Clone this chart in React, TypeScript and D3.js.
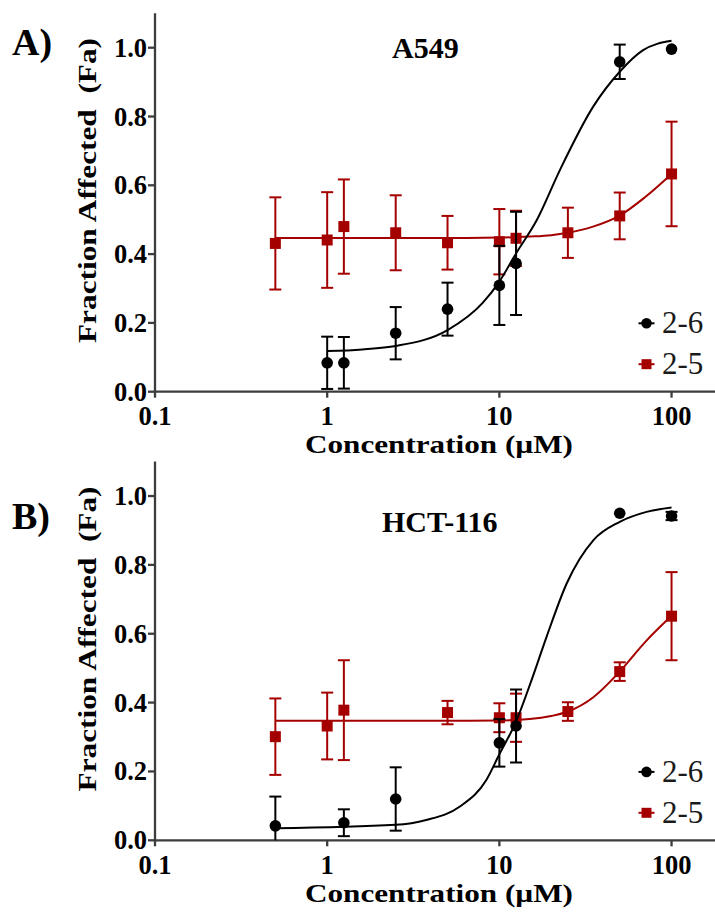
import React from "react";
import * as d3 from "d3";

// ---------- Data ----------
// Panel A: A549
const concA26 = [1, 1.25, 2.5, 5, 10, 12.5, 50, 100];
const faA26 = [0.084, 0.084, 0.17, 0.24, 0.309, 0.373, 0.959, 0.996];
const sdA26 = [0.076, 0.075, 0.076, 0.077, 0.115, 0.15, 0.05, 0];
const concA25 = [0.5, 1, 1.25, 2.5, 5, 10, 12.5, 25, 50, 100];
const faA25 = [0.431, 0.441, 0.48, 0.462, 0.433, 0.436, 0.446, 0.462, 0.511, 0.633];
const sdA25 = [0.134, 0.139, 0.137, 0.109, 0.078, 0.095, 0.08, 0.073, 0.068, 0.152];
const fitA26x = [1, 1.6, 2.5, 5, 8, 10, 12.5, 16.5, 22.5, 35, 50, 68, 100];
const fitA26y = [0.118, 0.123, 0.133, 0.179, 0.258, 0.32, 0.402, 0.499, 0.645, 0.828, 0.93, 0.992, 1.02];
const fitA25x = [0.5, 5, 10, 15, 20, 25, 35, 50, 70, 100];
const fitA25y = [0.447, 0.447, 0.448, 0.451, 0.455, 0.462, 0.48, 0.512, 0.565, 0.633];

// Panel B: HCT-116
const concB26 = [0.5, 1.25, 2.5, 10, 12.5, 50, 100];
const faB26 = [0.042, 0.051, 0.12, 0.283, 0.332, 0.95, 0.942];
const sdB26 = [0.085, 0.039, 0.092, 0.069, 0.106, 0, 0.012];
const concB25 = [0.5, 1, 1.25, 5, 10, 12.5, 25, 50, 100];
const faB25 = [0.301, 0.332, 0.378, 0.371, 0.356, 0.356, 0.374, 0.49, 0.651];
const sdB25 = [0.111, 0.097, 0.145, 0.034, 0.042, 0.07, 0.027, 0.027, 0.128];
const fitB26x = [0.5, 2.5, 3.76, 5.9, 8.4, 10, 12.5, 15.4, 18.8, 24.6, 35.2, 50, 71.6, 100];
const fitB26y = [0.035, 0.045, 0.059, 0.098, 0.175, 0.25, 0.345, 0.466, 0.591, 0.746, 0.872, 0.925, 0.954, 0.967];
const fitB25x = [0.5, 5, 10, 15, 20, 25, 35, 50, 70, 100];
const fitB25y = [0.347, 0.347, 0.348, 0.352, 0.361, 0.374, 0.415, 0.49, 0.575, 0.652];

const xTicks = [0.1, 1, 10, 100];
const xTickLabels = ["0.1", "1", "10", "100"];
const yTicks = [0, 0.2, 0.4, 0.6, 0.8, 1.0];
const yTickLabels = ["0.0", "0.2", "0.4", "0.6", "0.8", "1.0"];
const seriesNames = ["2-6", "2-5"];

const FONT = "'Liberation Serif', 'Times New Roman', serif";
const BLACK = "#000000";
const RED = "#a50000";
const AXIS = "#3c3c3c";

type PanelProps = {
  letter: string;
  title: string;
  y0: number;
  yTop: number;
  letterY: number;
  titleX: number;
  titleY: number;
  c26: number[]; f26: number[]; s26: number[];
  c25: number[]; f25: number[]; s25: number[];
  fx26: number[]; fy26: number[];
  fx25: number[]; fy25: number[];
};

const bold = (size: number): React.CSSProperties => ({
  fontFamily: FONT,
  fontWeight: 700,
  fontSize: size,
});

function Panel(p: PanelProps) {
  const x = d3.scaleLog().domain([0.1, 180]).range([155, 715.5]);
  const y = d3.scaleLinear().domain([0, 1.1]).range([p.y0, p.yTop]);
  const line = d3
    .line<[number, number]>()
    .x((d) => x(d[0]))
    .y((d) => y(d[1]))
    .curve(d3.curveMonotoneX);
  const fit26 = line(p.fx26.map((v, i) => [v, p.fy26[i]] as [number, number])) || "";
  const fit25 = line(p.fx25.map((v, i) => [v, p.fy25[i]] as [number, number])) || "";
  const cap = 6;

  const errBars = (c: number[], f: number[], s: number[], color: string) =>
    c.map((cv, i) => {
      if (!s[i]) return null;
      const cx = x(cv);
      const lo = Math.max(0, f[i] - s[i]);
      const hi = f[i] + s[i];
      return (
        <g key={"e" + i} stroke={color} strokeWidth={2} fill="none">
          <line x1={cx} x2={cx} y1={y(lo)} y2={y(hi)} />
          <line x1={cx - cap} x2={cx + cap} y1={y(hi)} y2={y(hi)} />
          {f[i] - s[i] >= 0 && <line x1={cx - cap} x2={cx + cap} y1={y(lo)} y2={y(lo)} />}
        </g>
      );
    });

  const midY = (p.y0 + p.yTop) / 2 - 12;
  const legX = 646.5;
  const leg26Y = p.y0 - 68.4;
  const leg25Y = p.y0 - 27.5;

  return (
    <g>
      <text x={12} y={p.letterY} style={bold(38)} fill="#000">
        {p.letter}
      </text>
      <text x={p.titleX} y={p.titleY} style={bold(30)} fill="#000">
        {p.title}
      </text>

      {/* y axis */}
      <line x1={155} x2={155} y1={p.yTop} y2={p.y0 + 1} stroke={AXIS} strokeWidth={2.3} />
      {yTicks.map((t, i) => (
        <g key={"yt" + i}>
          <line x1={148} x2={155} y1={y(t)} y2={y(t)} stroke={AXIS} strokeWidth={2.3} />
          <text x={147} y={y(t) + 9} textAnchor="end" style={bold(26.5)} fill="#000">
            {yTickLabels[i]}
          </text>
        </g>
      ))}
      <text
        transform={`translate(96,${midY}) rotate(-90)`}
        textAnchor="middle"
        textLength={305}
        lengthAdjust="spacingAndGlyphs"
        style={{ ...bold(26), whiteSpace: "pre" }}
        fill="#000"
      >
        {"Fraction Affected  (Fa)"}
      </text>

      {/* x axis */}
      <line x1={154} x2={715} y1={p.y0} y2={p.y0} stroke={AXIS} strokeWidth={2.3} />
      {xTicks.map((t, i) => (
        <g key={"xt" + i}>
          <line x1={x(t)} x2={x(t)} y1={p.y0} y2={p.y0 + 6} stroke={AXIS} strokeWidth={2.3} />
          <text x={x(t)} y={p.y0 + 33.5} textAnchor="middle" style={bold(26.5)} fill="#000">
            {xTickLabels[i]}
          </text>
        </g>
      ))}
      <text
        x={439}
        y={p.y0 + 61.6}
        textAnchor="middle"
        textLength={268}
        lengthAdjust="spacingAndGlyphs"
        style={bold(26)}
        fill="#000"
      >
        Concentration (µM)
      </text>

      {/* series 2-5 (red) */}
      <path d={fit25} fill="none" stroke={RED} strokeWidth={2} />
      {errBars(p.c25, p.f25, p.s25, RED)}
      {p.c25.map((cv, i) => (
        <rect key={"s" + i} x={x(cv) - 5.5} y={y(p.f25[i]) - 5.5} width={11} height={11} fill={RED} />
      ))}

      {/* series 2-6 (black) */}
      <path d={fit26} fill="none" stroke={BLACK} strokeWidth={2} />
      {errBars(p.c26, p.f26, p.s26, BLACK)}
      {p.c26.map((cv, i) => (
        <circle key={"c" + i} cx={x(cv)} cy={y(p.f26[i])} r={5.8} fill={BLACK} />
      ))}

      {/* legend */}
      <line x1={legX - 8} x2={legX + 8} y1={leg26Y} y2={leg26Y} stroke={BLACK} strokeWidth={2} />
      <circle cx={legX} cy={leg26Y} r={5.3} fill={BLACK} />
      <text x={662} y={leg26Y + 10} style={{ fontFamily: FONT, fontSize: 31 }} fill="#1a1a1a">
        {seriesNames[0]}
      </text>
      <line x1={legX - 8} x2={legX + 8} y1={leg25Y} y2={leg25Y} stroke={RED} strokeWidth={2} />
      <rect x={legX - 5} y={leg25Y - 5} width={10} height={10} fill={RED} />
      <text x={662} y={leg25Y + 10} style={{ fontFamily: FONT, fontSize: 31 }} fill="#1a1a1a">
        {seriesNames[1]}
      </text>
    </g>
  );
}

export default function App() {
  return (
    <svg
      width={715}
      height={919}
      viewBox="0 0 715 919"
      style={{ position: "absolute", left: 0, top: 0, background: "#fff" }}
    >
      <rect width={715} height={919} fill="#fff" />
      <Panel
        letter="A)"
        title="A549"
        y0={391.7}
        yTop={13.3}
        letterY={54.5}
        titleX={392}
        titleY={58}
        c26={concA26} f26={faA26} s26={sdA26}
        c25={concA25} f25={faA25} s25={sdA25}
        fx26={fitA26x} fy26={fitA26y}
        fx25={fitA25x} fy25={fitA25y}
      />
      <Panel
        letter="B)"
        title="HCT-116"
        y0={840.3}
        yTop={461.6}
        letterY={529}
        titleX={382}
        titleY={531.5}
        c26={concB26} f26={faB26} s26={sdB26}
        c25={concB25} f25={faB25} s25={sdB25}
        fx26={fitB26x} fy26={fitB26y}
        fx25={fitB25x} fy25={fitB25y}
      />
    </svg>
  );
}
